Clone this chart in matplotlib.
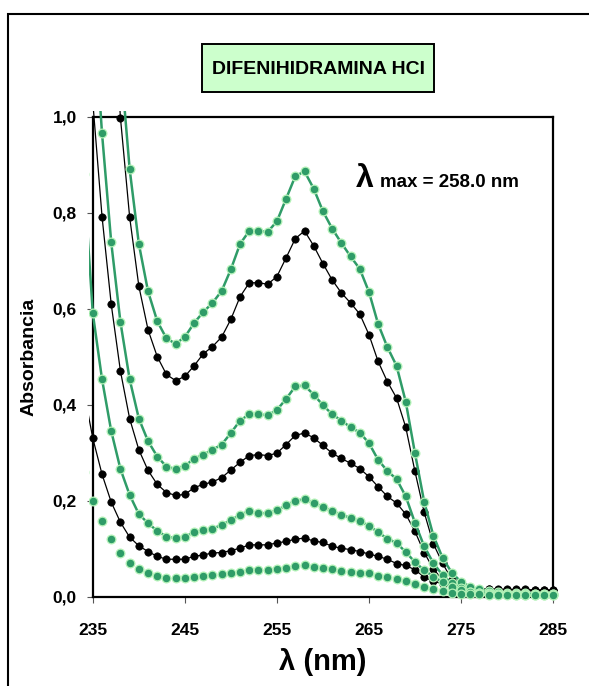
import numpy as np
import matplotlib
matplotlib.use("Agg")
import matplotlib.pyplot as plt
from matplotlib.patches import Rectangle

plt.rcParams["font.family"] = ["Liberation Sans", "DejaVu Sans"]

# wavelength grid (nm); 234 only feeds the clipped segment at the left edge
wl = list(range(234, 286))

tail_b = [0.018, 0.017, 0.016, 0.016, 0.015, 0.015, 0.015, 0.014, 0.014, 0.014]
tail_g = [0.010, 0.008, 0.007, 0.006, 0.006, 0.005, 0.005, 0.005, 0.005, 0.005]

green_1 = [2.6, 2.2, 1.8, 1.45, 1.12, 0.891, 0.735, 0.636, 0.574, 0.538, 0.527, 0.541,
           0.570, 0.593, 0.612, 0.637, 0.682, 0.735, 0.762, 0.762, 0.760, 0.782, 0.829,
           0.876, 0.886, 0.850, 0.803, 0.767, 0.737, 0.709, 0.683, 0.635, 0.568, 0.520,
           0.481, 0.406, 0.299, 0.198, 0.127, 0.081, 0.050, 0.031, 0.021, 0.015, 0.011,
           0.009, 0.008, 0.007, 0.007, 0.006, 0.006, 0.006]
black_1 = [2.4, 2.0, 1.65, 1.3, 0.998, 0.791, 0.647, 0.556, 0.500, 0.463, 0.450, 0.459,
           0.481, 0.506, 0.521, 0.541, 0.578, 0.625, 0.654, 0.654, 0.651, 0.667, 0.706,
           0.746, 0.762, 0.731, 0.694, 0.660, 0.633, 0.612, 0.589, 0.546, 0.490, 0.448,
           0.414, 0.353, 0.261, 0.176, 0.110, 0.070, 0.035, 0.020] + tail_b
green_2 = [1.6, 1.25, 0.965, 0.738, 0.572, 0.453, 0.371, 0.324, 0.292, 0.271, 0.266, 0.273,
           0.287, 0.296, 0.306, 0.317, 0.341, 0.367, 0.380, 0.380, 0.378, 0.389, 0.412,
           0.438, 0.440, 0.421, 0.399, 0.380, 0.367, 0.353, 0.342, 0.320, 0.285, 0.262,
           0.245, 0.209, 0.154, 0.105, 0.070, 0.045, 0.028, 0.018] + tail_g
black_2 = [1.25, 1.03, 0.792, 0.609, 0.470, 0.371, 0.306, 0.263, 0.234, 0.217, 0.211, 0.213,
           0.227, 0.234, 0.239, 0.248, 0.264, 0.280, 0.294, 0.296, 0.294, 0.299, 0.317,
           0.336, 0.341, 0.331, 0.315, 0.299, 0.288, 0.278, 0.267, 0.250, 0.229, 0.209,
           0.195, 0.172, 0.136, 0.092, 0.058, 0.035, 0.022, 0.016,
           0.014, 0.013, 0.013, 0.013, 0.012, 0.012, 0.012, 0.012, 0.012, 0.012]
green_3 = [0.88, 0.590, 0.453, 0.345, 0.266, 0.212, 0.172, 0.153, 0.137, 0.125, 0.122, 0.125,
           0.134, 0.138, 0.141, 0.150, 0.159, 0.171, 0.178, 0.174, 0.174, 0.180, 0.190,
           0.200, 0.203, 0.195, 0.187, 0.178, 0.171, 0.164, 0.157, 0.148, 0.134, 0.121,
           0.112, 0.093, 0.072, 0.055, 0.042, 0.030, 0.020, 0.013,
           0.009, 0.007, 0.006, 0.005, 0.005, 0.004, 0.004, 0.004, 0.004, 0.004]
black_3 = [0.43, 0.330, 0.255, 0.197, 0.155, 0.124, 0.106, 0.094, 0.084, 0.078, 0.078, 0.078,
           0.084, 0.087, 0.091, 0.092, 0.096, 0.101, 0.108, 0.108, 0.108, 0.112, 0.115,
           0.120, 0.122, 0.116, 0.113, 0.105, 0.101, 0.098, 0.094, 0.089, 0.084, 0.078,
           0.069, 0.065, 0.056, 0.041, 0.032, 0.027, 0.022, 0.018,
           0.016, 0.015, 0.015, 0.014, 0.014, 0.014, 0.013, 0.013, 0.013, 0.013]
green_4 = [0.26, 0.200, 0.157, 0.120, 0.092, 0.071, 0.058, 0.049, 0.044, 0.039, 0.039, 0.039,
           0.042, 0.044, 0.046, 0.048, 0.050, 0.052, 0.055, 0.055, 0.055, 0.057, 0.060,
           0.063, 0.065, 0.061, 0.059, 0.057, 0.054, 0.052, 0.050, 0.049, 0.043, 0.041,
           0.037, 0.033, 0.027, 0.020, 0.015, 0.011, 0.008, 0.006,
           0.005, 0.005, 0.004, 0.004, 0.004, 0.004, 0.004, 0.004, 0.004, 0.004]

x_ticks = [235, 245, 255, 265, 275, 285]
y_ticks = [0.0, 0.2, 0.4, 0.6, 0.8, 1.0]
y_ticklabels = ["0,0", "0,2", "0,4", "0,6", "0,8", "1,0"]

GREEN = "#2f9c68"
GREEN_EDGE = "#b4f2b8"

W, H = 589, 686
fig = plt.figure(figsize=(W / 100, H / 100), dpi=100)
ax = fig.add_axes([0.1576, 0.1302, 0.7813, 0.6997])

# outer frame, cut by the right and bottom edges of the picture
fig.patches.append(Rectangle((8 / W, -0.1), 1.2, 1.1 - 14 / H, transform=fig.transFigure,
                             fill=False, edgecolor="black", linewidth=1.5))

# title box
fig.patches.append(Rectangle((202 / W, 1 - 92 / H), 232 / W, 48 / H, transform=fig.transFigure,
                             facecolor="#ccffcc", edgecolor="black", linewidth=1.4))
fig.text(318 / W, 1 - 69 / H, "DIFENIHIDRAMINA HCI", ha="center", va="center",
         fontsize=14, fontweight="bold")

clip = Rectangle((234.62, -0.05), 52, 1.062, transform=ax.transData, visible=False)
ax.add_patch(clip)

for ys in [black_1, black_2, black_3]:
    ln, = ax.plot(wl, ys, color="black", lw=0.9, marker="o", ms=5.3, mfc="black",
                  mec="black", mew=0.5, zorder=3)
    ln.set_clip_path(clip)
for ys in [green_1, green_2, green_3]:
    ln, = ax.plot(wl, ys, color=GREEN, lw=1.8, marker="o", ms=6.3, mfc=GREEN,
                  mec=GREEN_EDGE, mew=0.9, zorder=4)
    ln.set_clip_path(clip)
ln, = ax.plot(wl, green_4, linestyle="none", marker="o", ms=6.3, mfc=GREEN,
              mec=GREEN_EDGE, mew=0.9, zorder=4)
ln.set_clip_path(clip)

ax.set_xlim(235, 285)
ax.set_ylim(0, 1.0)
ax.set_xticks(x_ticks)
ax.set_xticklabels([str(t) for t in x_ticks], fontsize=12.5, fontweight="bold")
ax.set_yticks(y_ticks)
ax.set_yticklabels(y_ticklabels, fontsize=12.5, fontweight="bold")
ax.tick_params(direction="out", length=4, width=0.8, color="#555555")
ax.tick_params(axis="x", pad=15)
ax.tick_params(axis="y", pad=7.5)
for s in ax.spines.values():
    s.set_linewidth(1.6)

ax.set_ylabel("Absorbancia", fontsize=14, fontweight="bold", labelpad=11)
ax.set_xlabel("λ (nm)", fontsize=21, fontweight="bold", labelpad=7)

ax.text(0.572, 0.853, "λ", transform=ax.transAxes, fontsize=23, fontweight="bold",
        va="baseline", ha="left")
ax.text(0.624, 0.853, "max = 258.0 nm", transform=ax.transAxes, fontsize=13.5,
        fontweight="bold", va="baseline", ha="left")

fig.savefig("out.png", dpi=100)
